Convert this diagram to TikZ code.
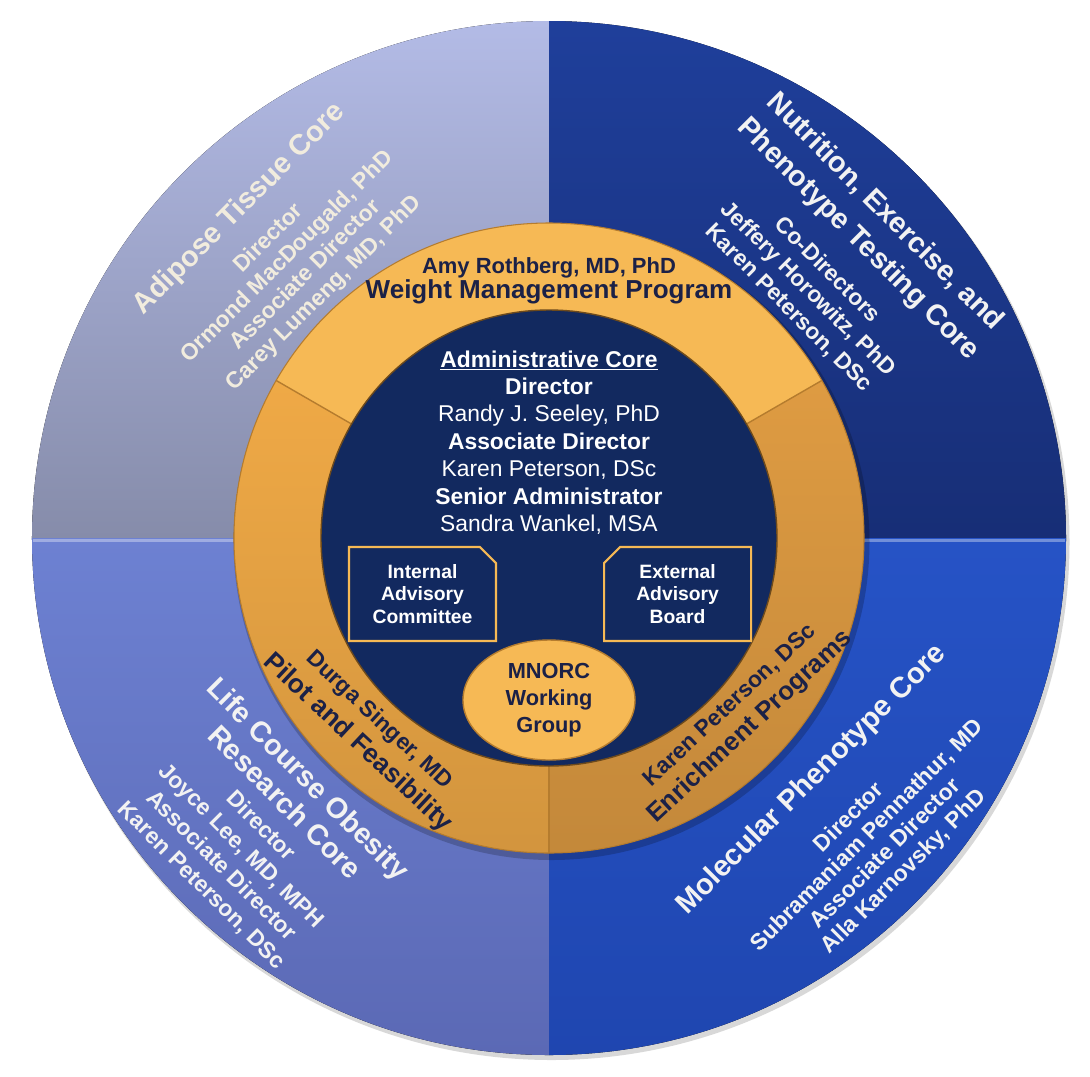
\documentclass[tikz,border=0pt]{standalone}
\usepackage{fontspec}
\setmainfont{Liberation Sans}
\usepackage{xcolor}
\definecolor{adlight}{HTML}{B3BBE6}
\definecolor{addark}{HTML}{868CAA}
\definecolor{nutop}{HTML}{1F3F9B}
\definecolor{nubot}{HTML}{172E76}
\definecolor{lctop}{HTML}{6D81D2}
\definecolor{lcbot}{HTML}{5B69B5}
\definecolor{mptop}{HTML}{2653C6}
\definecolor{mpbot}{HTML}{1F46B0}
\definecolor{goldtop}{HTML}{F6B955}
\definecolor{goldleft}{HTML}{EFA946}
\definecolor{goldright}{HTML}{DE9B42}
\definecolor{goldedge}{HTML}{B57C2E}
\definecolor{corenavy}{HTML}{12295F}
\definecolor{inknavy}{HTML}{1B2147}
\definecolor{cream}{HTML}{F1ECDE}
\usepackage{tikz}
\usetikzlibrary{shapes.geometric, shapes.misc, positioning}

\begin{document}
\begin{tikzpicture}[
  quadtext/.style={align=center, text=white!95!black,
    font=\bfseries\fontsize{13}{15}\selectfont},
  ringtext/.style={align=center, text=inknavy,
    font=\bfseries\fontsize{13}{15}\selectfont},
  boardbox/.style={chamfered rectangle,
    chamfered rectangle xsep=0.16cm, chamfered rectangle ysep=0.16cm,
    draw=goldtop, line width=1.2pt, fill=corenavy,
    minimum width=2.94cm, minimum height=1.88cm, inner sep=2pt,
    align=center, text=white, font=\bfseries\fontsize{11}{12.8}\selectfont},
  hubnode/.style={ellipse, draw=goldedge, line width=0.8pt, fill=goldtop,
    minimum width=3.44cm, minimum height=2.4cm, inner sep=0pt,
    align=center, text=inknavy, font=\bfseries\fontsize{12.4}{15.4}\selectfont}
]
  \useasboundingbox (-10.98,-10.76) rectangle (10.82,10.76);

  % Outer wheel: four cores
  \fill[black!30, opacity=0.5] (0.05,-0.08) circle (10.36);
  \fill[top color=adlight, bottom color=addark]
    (0,0) -- (90:10.34) arc[start angle=90, end angle=180, radius=10.34] -- cycle;
  \fill[top color=nutop, bottom color=nubot]
    (0,0) -- (0:10.34) arc[start angle=0, end angle=90, radius=10.34] -- cycle;
  \fill[top color=lctop, bottom color=lcbot]
    (0,0) -- (180:10.34) arc[start angle=180, end angle=270, radius=10.34] -- cycle;
  \fill[top color=mptop, bottom color=mpbot]
    (0,0) -- (270:10.34) arc[start angle=270, end angle=360, radius=10.34] -- cycle;
  \draw[white, opacity=0.35, line width=2pt] (-10.32,-0.05) -- (10.32,-0.05);

  % Middle ring: programs
  \fill[black, opacity=0.2] (0.05,-0.08) circle (6.36);
  \fill[goldtop]
    (0,0) -- (30:6.3) arc[start angle=30, end angle=150, radius=6.3] -- cycle;
  \fill[top color=goldleft, bottom color=goldleft!88!black]
    (0,0) -- (150:6.3) arc[start angle=150, end angle=270, radius=6.3] -- cycle;
  \fill[top color=goldright, bottom color=goldright!88!black]
    (0,0) -- (270:6.3) arc[start angle=270, end angle=390, radius=6.3] -- cycle;
  \draw[goldedge, line width=0.6pt] (0,0) circle (6.3);
  \foreach \a in {30,150,270}
    \draw[goldedge, line width=0.8pt] (\a:4.5) -- (\a:6.3);

  % Centre: administrative core
  \fill[corenavy] (0,0) circle (4.56);
  \draw[goldedge!60!black, line width=0.8pt] (0,0) circle (4.56);

  % Core labels
  \node[quadtext, text=cream, rotate=45,
    font=\bfseries\fontsize{13}{14.8}\selectfont] (adipose) at (133:7.86)
    {{\fontsize{16.4}{19}\selectfont Adipose Tissue Core}\\[8pt]
     Director\\ Ormond MacDougald, PhD\\
     Associate Director\\ Carey Lumeng, MD, PhD};
  \node[quadtext, rotate=-45,
    font=\bfseries\fontsize{13}{15.4}\selectfont] (nutrition) at (44:8.03)
    {{\fontsize{16.4}{19}\selectfont Nutrition, Exercise, and}\\[6.2pt]
     {\fontsize{16.4}{19}\selectfont Phenotype Testing Core}\\[8.8pt]
     Co-Directors\\ Jeffery Horowitz, PhD\\ Karen Peterson, DSc};
  \node[quadtext, rotate=-45,
    font=\bfseries\fontsize{13}{15.9}\selectfont] (lifecourse) at (225:8.31)
    {{\fontsize{16.4}{19}\selectfont Life Course Obesity}\\[2.9pt]
     {\fontsize{16.4}{19}\selectfont Research Core}\\[1.7pt]
     Director\\ Joyce Lee, MD, MPH\\
     Associate Director\\ Karen Peterson, DSc};
  \node[quadtext, rotate=45,
    font=\bfseries\fontsize{13}{14.6}\selectfont] (molecular) at (-43:8.42)
    {{\fontsize{16.6}{19}\selectfont Molecular Phenotype Core}\\[15pt]
     Director\\ Subramaniam Pennathur, MD\\
     Associate Director\\ Alla Karnovsky, PhD};

  % Program labels
  \node[ringtext, font=\bfseries\fontsize{12.5}{14.2}\selectfont] (weight) at (0,5.15)
    {Amy Rothberg, MD, PhD\\
     {\fontsize{14.8}{17}\selectfont Weight Management Program}};
  \node[ringtext, rotate=-43,
    font=\bfseries\fontsize{13}{15.5}\selectfont] (pilot) at (227:5.32)
    {Durga Singer, MD\\[2.7pt]
     {\fontsize{15}{18}\selectfont Pilot and Feasibility}};
  \node[ringtext, rotate=43,
    font=\bfseries\fontsize{13}{15.5}\selectfont] (enrich) at (-43:5.25)
    {Karen Peterson, DSc\\[1.5pt]
     {\fontsize{14.7}{18}\selectfont Enrichment Programs}};

  % Administrative core
  \node[align=center, text=white, font=\fontsize{13}{15.6}\selectfont] (admin) at (0,1.91)
    {\underline{\textbf{Administrative Core}}\\
     \textbf{Director}\\ Randy J. Seeley, PhD\\
     \textbf{Associate Director}\\ Karen Peterson, DSc\\
     \textbf{Senior Administrator}\\ Sandra Wankel, MSA};
  \node[boardbox, chamfered rectangle corners=north east] (internal) at (-2.53,-1.12)
    {Internal\\ Advisory\\ Committee};
  \node[boardbox, chamfered rectangle corners=north west, right=2.12cm of internal] (external)
    {External\\ Advisory\\ Board};
  \node[hubnode] (mnorc) at (0,-3.24) {MNORC\\ Working\\ Group};
\end{tikzpicture}
\end{document}
